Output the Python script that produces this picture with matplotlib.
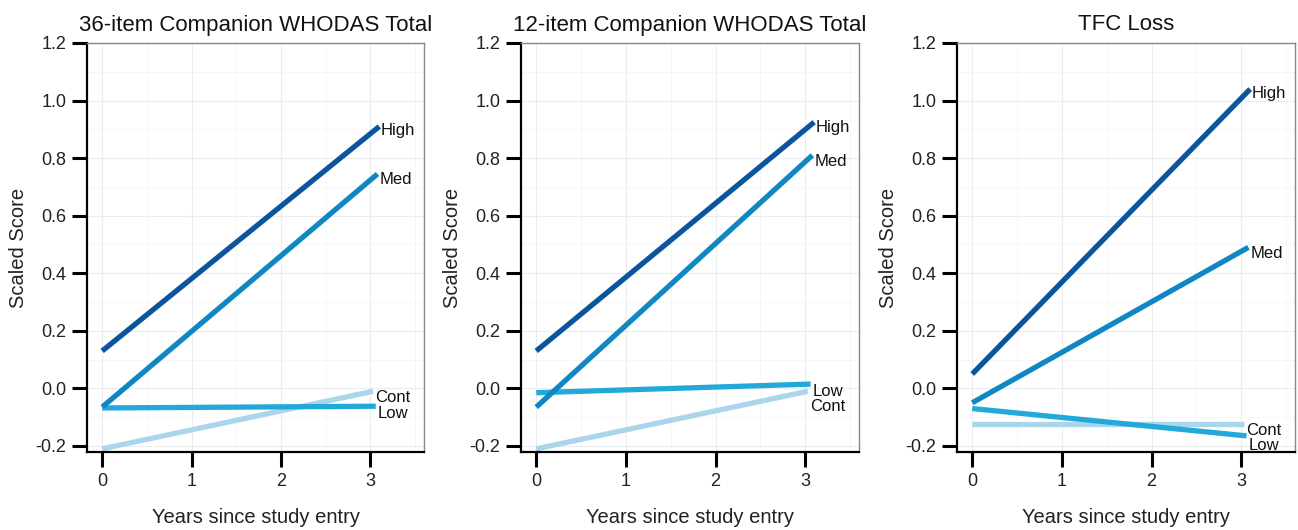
import matplotlib
matplotlib.use("Agg")
import matplotlib.pyplot as plt
from matplotlib.ticker import MultipleLocator

plt.rcParams.update({"font.family": ["Liberation Sans", "DejaVu Sans"]})

# data: start (year 0) and end points of each fitted trajectory
titles = ["36-item Companion WHODAS Total", "12-item Companion WHODAS Total", "TFC Loss"]
groups = ["High", "Med", "Low", "Cont"]
colors = {"High": "#0b559f", "Med": "#0f87c3", "Low": "#22a9d9", "Cont": "#a9d6ea"}

x_start = [0, 0, 0, 0]
x_end = [3.1, 3.08, 3.06, 3.03]   # High, Med, Low, Cont

whodas36_start = [0.13, -0.065, -0.068, -0.21]
whodas36_end = [0.91, 0.745, -0.062, -0.01]
whodas12_start = [0.13, -0.065, -0.015, -0.21]
whodas12_end = [0.925, 0.81, 0.015, -0.01]
tfc_start = [0.05, -0.05, -0.07, -0.125]
tfc_end = [1.04, 0.49, -0.165, -0.125]

series_start = [whodas36_start, whodas12_start, tfc_start]
series_end = [whodas36_end, whodas12_end, tfc_end]

# label placement (y in data units) per panel, High/Med/Low/Cont
label_y = [
    [0.895, 0.725, -0.088, -0.03],
    [0.905, 0.79, -0.012, -0.064],
    [1.025, 0.47, -0.198, -0.145],
]

fig = plt.figure(figsize=(12.98, 5.30), dpi=100)
lefts = [87, 521, 957]
rights = [424, 859, 1295]
top_px, bot_px = 43, 452

for i, title in enumerate(titles):
    ax = fig.add_axes([lefts[i] / 1298, 1 - bot_px / 530,
                       (rights[i] - lefts[i]) / 1298, (bot_px - top_px) / 530])
    ax.set_xlim(-0.17, 3.6)
    ax.set_ylim(-0.221, 1.2)
    ax.xaxis.set_major_locator(MultipleLocator(1))
    ax.xaxis.set_minor_locator(MultipleLocator(0.5))
    ax.yaxis.set_major_locator(MultipleLocator(0.2))
    ax.yaxis.set_minor_locator(MultipleLocator(0.1))
    ax.grid(which="major", color="#eaedf0", lw=0.8)
    ax.grid(which="minor", color="#f4f5f7", lw=0.6)
    ax.set_axisbelow(True)
    ax.yaxis.set_major_formatter(matplotlib.ticker.FormatStrFormatter("%.1f"))
    ax.tick_params(which="major", length=11, width=2.2, color="black",
                   labelsize=13, labelcolor="#222222", pad=4)
    ax.tick_params(which="minor", length=0)
    for s in ["left", "bottom"]:
        ax.spines[s].set_color("black")
        ax.spines[s].set_linewidth(1.6)
    for s in ["top", "right"]:
        ax.spines[s].set_color("#888888")
        ax.spines[s].set_linewidth(1.0)

    # draw Cont first so darker lines sit on top
    for j in [3, 2, 1, 0]:
        g = groups[j]
        ax.plot([x_start[j], x_end[j]], [series_start[i][j], series_end[i][j]],
                color=colors[g], lw=3.8, solid_capstyle="butt")
    for j, g in enumerate(groups):
        ax.text(x_end[j] + 0.02, label_y[i][j], g, fontsize=12, color="#111111",
                ha="left", va="center")

    ax.set_title(title, fontsize=16, color="#111111", pad=9)
    ax.set_ylabel("Scaled Score", fontsize=14.5, color="#222222", labelpad=5)
    ax.set_xlabel("Years since study entry", fontsize=14.5, color="#222222", labelpad=13)

fig.savefig("out.png", dpi=100, facecolor="white")
